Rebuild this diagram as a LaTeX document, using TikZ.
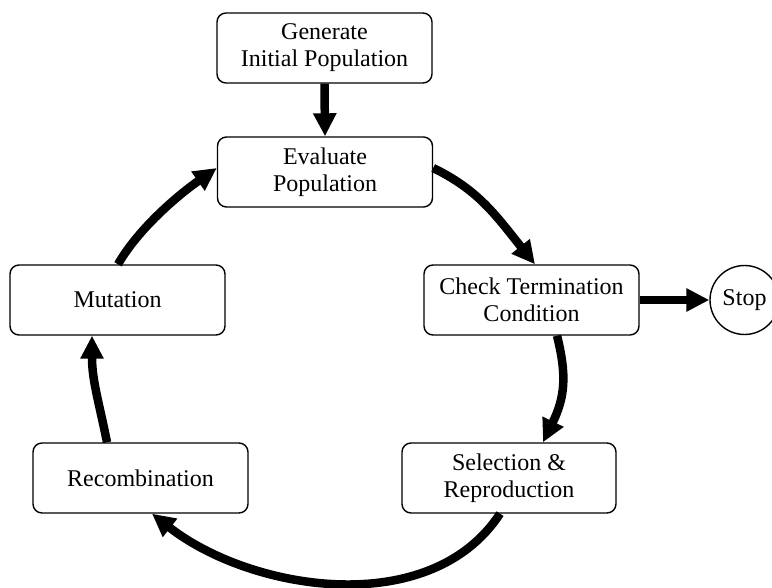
\documentclass[tikz,border=0pt]{standalone}
\usepackage{fontspec}
\setmainfont{Liberation Serif}
\usetikzlibrary{arrows.meta}
\begin{document}
\begin{tikzpicture}[x=1pt,y=-1pt,
  box/.style={draw, line width=1.4pt, rounded corners=9pt, minimum width=215pt,
    minimum height=70pt, align=center, inner sep=0pt,
    font=\fontsize{24}{27}\selectfont},
  stopc/.style={draw, circle, line width=1.4pt, minimum size=69pt, inner sep=0pt,
    font=\fontsize{24}{27}\selectfont},
  flow/.style={line width=8.5pt, -{Triangle[length=23pt,width=22pt]}}]
\useasboundingbox (0,0) rectangle (772,588);
\node[box] (gen) at (324.5,48) {Generate\\Initial Population};
\node[box] (eval) at (325,172) {Evaluate\\Population};
\node[box] (check) at (531.5,300) {Check Termination\\Condition};
\node[stopc] (stop) at (744.5,300) {Stop};
\node[box, minimum width=214pt] (sel) at (509,478) {Selection \&\\Reproduction};
\node[box] (rec) at (140.5,478) {Recombination};
\node[box] (mut) at (117.5,300) {Mutation};

\draw[flow] (gen.south) -- (eval.north);
\draw[flow] ([yshift=4pt]eval.east) .. controls +(45,22) and +(-40,-50) .. ([xshift=3.5pt]check.north);
\draw[flow] ([xshift=25.5pt]check.south) .. controls +(10,40) and +(22,-45) .. ([xshift=34pt]sel.north);
\draw[flow] ([xshift=-9pt]sel.south) .. controls +(-70,107) and +(98,77) .. ([xshift=11.5pt]rec.south);
\draw[flow] ([xshift=-33.5pt]rec.north) .. controls +(-8,-40) and +(0,45) .. ([xshift=-25.5pt]mut.south);
\draw[flow] ([xshift=0.5pt]mut.north) .. controls +(20,-35) and +(-40,28) .. ([yshift=4pt]eval.west);
\draw[flow] (check.east) -- (stop.west);
\end{tikzpicture}
\end{document}
